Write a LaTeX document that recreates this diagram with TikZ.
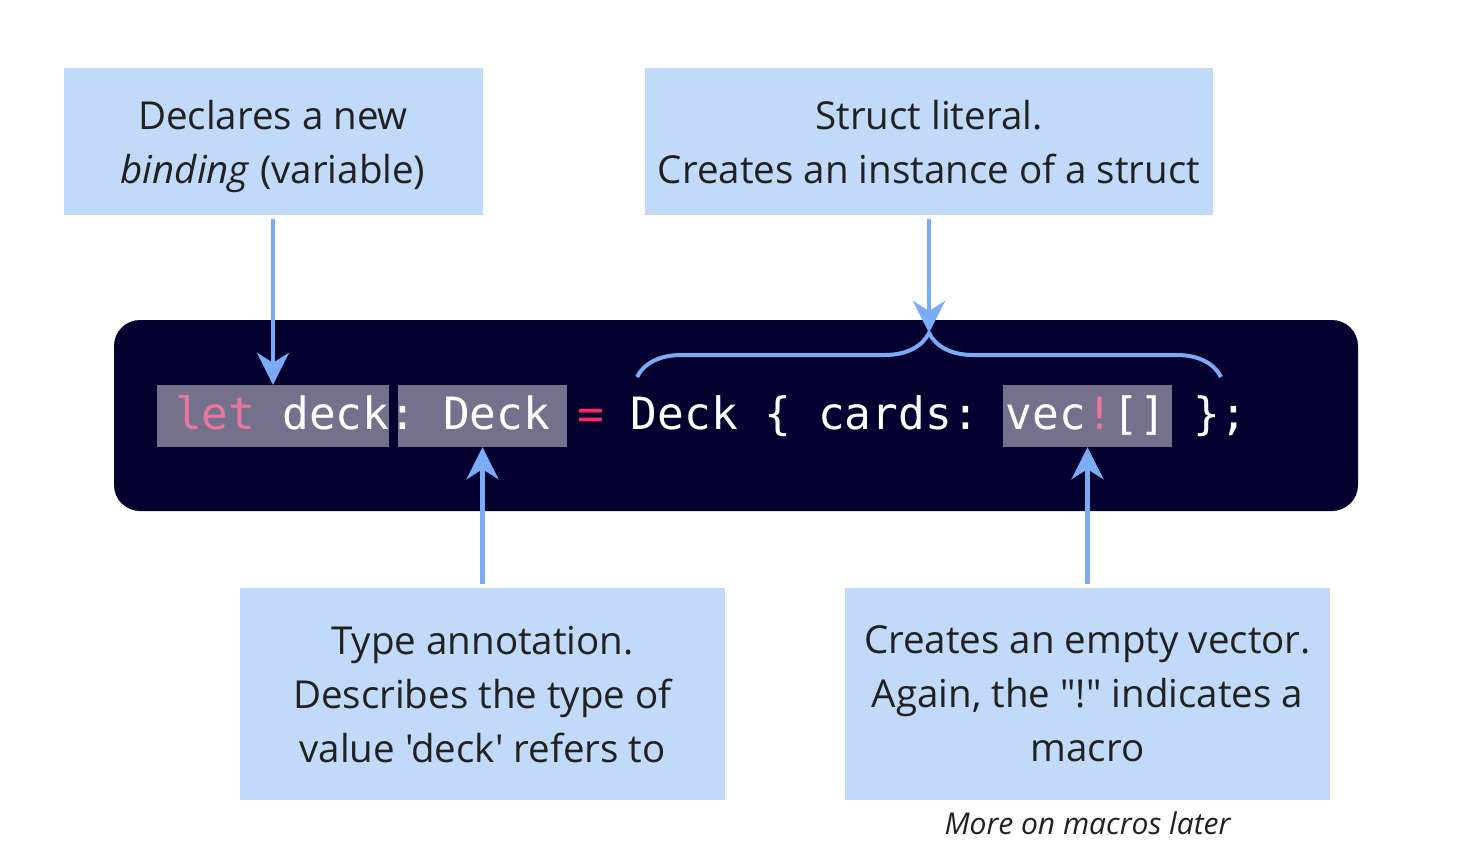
\documentclass[tikz,border=0pt]{standalone}
\usepackage{fontspec}
\setmainfont{Open Sans}[Ligatures=TeXOff]
\setmonofont{DejaVu Sans Mono}
\usepackage{tikz}
\usetikzlibrary{arrows.meta,positioning,decorations.pathreplacing}

\definecolor{boxblue}{RGB}{193,218,250}
\definecolor{arrowblue}{RGB}{122,172,245}
\definecolor{codebg}{RGB}{3,0,48}
\definecolor{hlgrey}{RGB}{117,113,140}
\definecolor{letpink}{RGB}{232,120,155}
\definecolor{eqred}{RGB}{255,40,100}
\definecolor{ink}{RGB}{33,33,33}

\begin{document}
\begin{tikzpicture}[x=1pt,y=-1pt,on grid,node distance=605pt,
	note/.style={fill=boxblue,text=ink,align=center,inner sep=0pt,text depth=0pt,font=\fontsize{38.5}{54}\selectfont},
	hl/.style={fill=hlgrey,inner sep=0pt,minimum width=169pt,minimum height=62pt},
	arr/.style={draw=arrowblue,fill=arrowblue,line width=4.5pt,shorten <=4pt,arrows={-Stealth[length=32pt,width=32pt,inset=10pt]}}]
			\useasboundingbox (0,0) rectangle (1480,860);
			\node[fill=codebg,rounded corners=26pt,minimum width=1244pt,minimum height=191pt,inner sep=0pt] (c) at (736,415.5) {};
			\node[hl,minimum width=232pt] (h_1) at (273,416) {};
			\node[hl] (h_2) at (482.5,416) {};
			\node[hl] (h_3) [right=605pt of h_2] {};
			\node[anchor=base west,inner sep=0pt,text=white,font=\fontsize{44.5}{44.5}\ttfamily] (c_t) at (175,429)
			{\textcolor{letpink}{let} deck: Deck \textcolor{eqred}{=} Deck \{ cards: vec\textcolor{letpink}{!}[] \};};
			\draw[arrowblue,line width=4pt,decorate,decoration={brace,amplitude=44pt}] (637,377) -- (1221,377);
			\coordinate (tip) at (929,333);
			\node[note,minimum width=419pt,minimum height=147pt] (n_1) at (273,141.5) {Declares a new\\\textit{binding} (variable)};
			\node[note,minimum width=568pt,minimum height=147pt] (n_2) at (929,141.5) {Struct literal.\\Creates an instance of a struct};
			\node[note,minimum width=485pt,minimum height=212pt] (n_3) at (482.5,694) {Type annotation.\\Describes the type of\\value 'deck' refers to};
			\node[note,minimum width=485pt,minimum height=212pt] (n_4) [right=of n_3] {Creates an empty vector.\\Again, the "!" indicates a\\macro};
			\node[text=ink,font=\fontsize{30}{30}\selectfont\itshape] (m) [below=129pt of n_4] {More on macros later};
			\draw[arr] (n_1) -- (h_1);
			\draw[arr] (n_2) -- (tip);
			\draw[arr] (n_3) -- (h_2);
			\draw[arr] (n_4) -- (h_3);
		\end{tikzpicture}
\end{document}
